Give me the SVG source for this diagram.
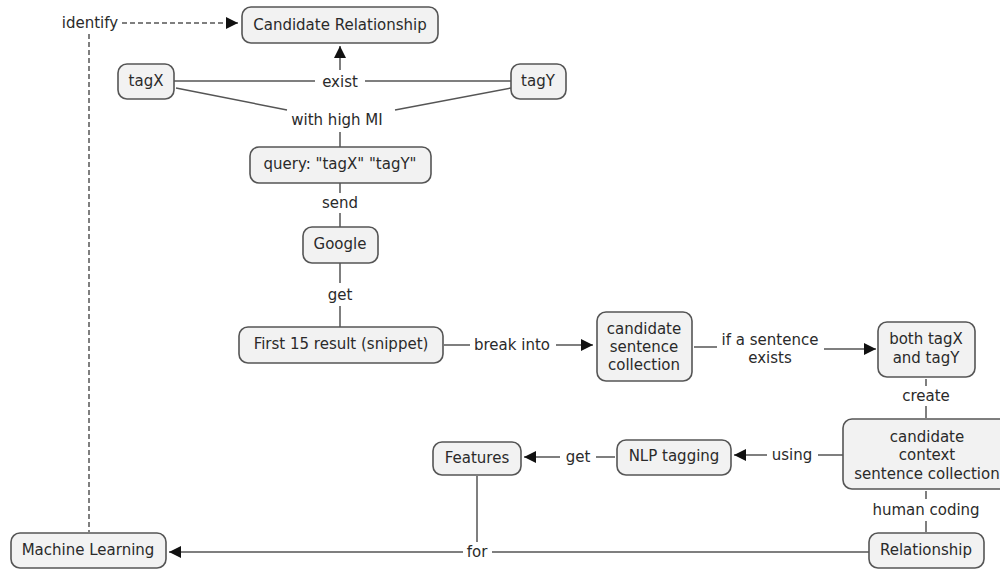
<svg xmlns="http://www.w3.org/2000/svg" width="1000" height="570" viewBox="0 0 1000 570">
<defs>
<marker id="ah" viewBox="0 0 12 12" refX="12" refY="6" markerWidth="12" markerHeight="12" markerUnits="userSpaceOnUse" orient="auto"><path d="M0,0 L12,6 L0,12 z" fill="#111"/></marker>
<style>
.n rect{fill:#f2f2f2;stroke:#555;stroke-width:1.6}
text{font-family:"DejaVu Sans",Verdana,sans-serif;font-size:15px;fill:#2a2a2a;text-anchor:middle;dominant-baseline:central}
.c line,.c polyline{stroke:#555;stroke-width:1.5;fill:none}
.d{stroke-dasharray:5,3}
</style>
</defs>
<rect width="1000" height="570" fill="#fff"/>
<g class="c">
<line class="d" x1="122" y1="23" x2="238" y2="23" marker-end="url(#ah)"/>
<line class="d" x1="89" y1="34" x2="89" y2="532"/>
<line x1="174" y1="81" x2="315" y2="81"/>
<line x1="365" y1="81" x2="511" y2="81"/>
<line x1="340" y1="70" x2="340" y2="46" marker-end="url(#ah)"/>
<line x1="176" y1="88" x2="287" y2="110"/>
<line x1="395" y1="110" x2="511" y2="88"/>
<line x1="340" y1="132" x2="340" y2="147"/>
<line x1="340" y1="183" x2="340" y2="193"/>
<line x1="340" y1="213" x2="340" y2="227"/>
<line x1="340" y1="263" x2="340" y2="283"/>
<line x1="340" y1="306" x2="340" y2="327"/>
<line x1="444" y1="345" x2="470" y2="345"/>
<line x1="556" y1="345" x2="593" y2="345" marker-end="url(#ah)"/>
<line x1="694" y1="347" x2="717" y2="347"/>
<line x1="824" y1="349" x2="876" y2="349" marker-end="url(#ah)"/>
<line x1="926" y1="379" x2="926" y2="386"/>
<line x1="926" y1="406" x2="926" y2="418"/>
<line x1="843" y1="455" x2="818" y2="455"/>
<line x1="767" y1="455" x2="734" y2="455" marker-end="url(#ah)"/>
<line x1="615" y1="457" x2="596" y2="457"/>
<line x1="560" y1="457" x2="524" y2="457" marker-end="url(#ah)"/>
<line x1="926" y1="491" x2="926" y2="499"/>
<line x1="926" y1="521" x2="926" y2="532"/>
<line x1="477" y1="476" x2="477" y2="542"/>
<line x1="869" y1="552" x2="492" y2="552"/>
<line x1="463" y1="552" x2="169" y2="552" marker-end="url(#ah)"/>
</g>
<g class="c-labels">
<text x="90" y="23">identify</text>
<text x="340" y="82">exist</text>
<text x="337" y="120">with high MI</text>
<text x="340" y="203">send</text>
<text x="340" y="295">get</text>
<text x="512" y="345">break into</text>
<text x="770" y="340">if a sentence</text>
<text x="770" y="358">exists</text>
<text x="926" y="396">create</text>
<text x="792" y="455">using</text>
<text x="578" y="457">get</text>
<text x="926" y="510">human coding</text>
<text x="477" y="552">for</text>
</g>
<g class="n" id="candidate-relationship"><rect x="242" y="7" width="196" height="36" rx="9"/><text x="340" y="25">Candidate Relationship</text></g>
<g class="n" id="tagX"><rect x="118" y="64" width="56" height="35" rx="9"/><text x="146" y="81">tagX</text></g>
<g class="n" id="tagY"><rect x="511" y="64" width="55" height="35" rx="9"/><text x="538" y="81">tagY</text></g>
<g class="n" id="query"><rect x="250" y="147" width="181" height="36" rx="9"/><text x="340" y="164">query: "tagX" "tagY"</text></g>
<g class="n" id="google"><rect x="303" y="227" width="75" height="36" rx="9"/><text x="340" y="244">Google</text></g>
<g class="n" id="first15"><rect x="239" y="327" width="204" height="36" rx="9"/><text x="341" y="344">First 15 result (snippet)</text></g>
<g class="n" id="candidate-sentence"><rect x="597" y="312" width="95" height="69" rx="9"/><text x="644" y="329">candidate</text><text x="644" y="347">sentence</text><text x="644" y="365">collection</text></g>
<g class="n" id="both"><rect x="878" y="322" width="97" height="55" rx="9"/><text x="926" y="339">both tagX</text><text x="926" y="358">and tagY</text></g>
<g class="n" id="context"><rect x="843" y="419" width="168" height="70" rx="9"/><text x="927" y="437">candidate</text><text x="927" y="455">context</text><text x="927" y="474">sentence collection</text></g>
<g class="n" id="nlp"><rect x="617" y="440" width="114" height="35" rx="9"/><text x="674" y="456">NLP tagging</text></g>
<g class="n" id="features"><rect x="433" y="442" width="88" height="33" rx="9"/><text x="477" y="458">Features</text></g>
<g class="n" id="relationship"><rect x="869" y="533" width="115" height="35" rx="9"/><text x="926" y="550">Relationship</text></g>
<g class="n" id="ml"><rect x="11" y="533" width="155" height="35" rx="9"/><text x="88" y="550">Machine Learning</text></g>
</svg>
